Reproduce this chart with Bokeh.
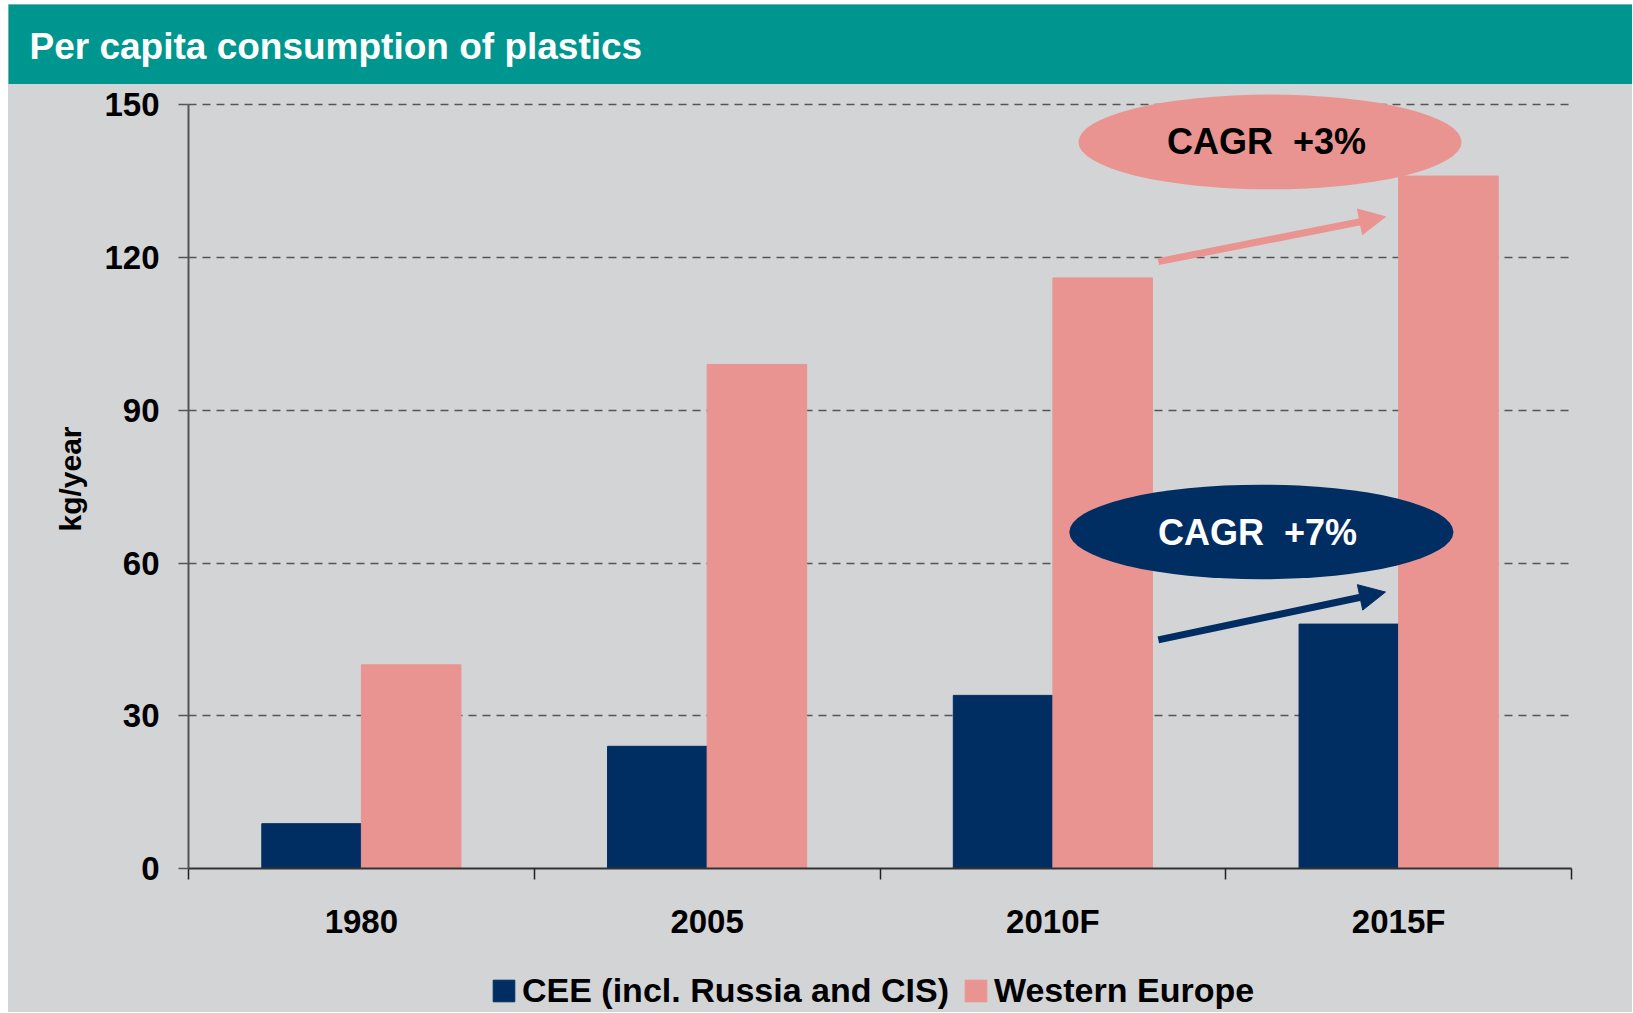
from bokeh.plotting import figure
from bokeh.models import Range1d, FixedTicker, Legend, LegendItem, Arrow, NormalHead
from bokeh.layouts import column
from bokeh.core.properties import value
from bokeh.embed import file_html
from bokeh.resources import INLINE

# ---- data ----
categories = ["1980", "2005", "2010F", "2015F"]
cee = [8.8, 24, 34, 48]
western_europe = [40, 99, 116, 136]
series_names = ["CEE (incl. Russia and CIS)", "Western Europe"]
y_ticks = [0, 30, 60, 90, 120, 150]
title_text = "Per capita consumption of plastics"
y_label = "kg/year"
cagr_labels = ["CAGR \u00a0+3%", "CAGR \u00a0+7%"]

TEAL = "#009690"
GREY = "#D3D4D6"
NAVY = "#002D62"
PINK = "#EA9491"
FONT = "Liberation Sans"

W = 1624


def bare(fig, fill):
    fig.background_fill_color = fill
    fig.border_fill_color = fill
    fig.outline_line_color = None
    fig.frame_align = False


# ---- header band ----
header = figure(width=W, height=80, x_range=Range1d(0, W), y_range=Range1d(0, 80),
                toolbar_location=None, output_backend="svg", min_border=0,
                x_axis_type=None, y_axis_type=None)
bare(header, TEAL)
header.text(x=[21], y=[38], text=[title_text], text_color="white",
            text_font=value(FONT), text_font_style="bold", text_font_size="37px",
            text_baseline="alphabetic", text_align="left")

# ---- main chart ----
p = figure(width=W, height=871, x_range=Range1d(0, 4), y_range=Range1d(0, 153),
           toolbar_location=None, output_backend="svg",
           min_border_left=180, min_border_right=61, min_border_top=5, min_border_bottom=87)
bare(p, GREY)

bw = 0.288
idx = list(range(len(categories)))
x_cee = [i + 0.5 - bw / 2 for i in idx]
x_we = [i + 0.5 + bw / 2 for i in idx]

p.vbar(x=x_cee, top=cee, width=bw, bottom=0, fill_color=NAVY, line_color=NAVY)
p.vbar(x=x_we, top=western_europe, width=bw, bottom=0, fill_color=PINK, line_color=PINK)

# axes
xa = p.xaxis[0]
xa.ticker = FixedTicker(ticks=[i + 0.5 for i in idx], minor_ticks=list(range(len(categories) + 1)))
xa.major_label_overrides = {i + 0.5: c for i, c in zip(idx, categories)}
xa.major_tick_line_color = None
xa.major_tick_out = 11
xa.major_tick_in = 0
xa.minor_tick_line_color = "#222222"
xa.minor_tick_line_width = 1.5
xa.minor_tick_out = 11
xa.minor_tick_in = 0
xa.axis_line_color = "#333333"
xa.axis_line_width = 2
xa.major_label_text_font = FONT
xa.major_label_text_font_style = "bold"
xa.major_label_text_font_size = "33px"
xa.major_label_text_color = "black"
xa.major_label_standoff = 23

ya = p.yaxis[0]
ya.ticker = FixedTicker(ticks=y_ticks)
ya.bounds = (0, 150)
ya.axis_line_color = "#555555"
ya.axis_line_width = 2
ya.major_tick_line_color = "#555555"
ya.major_tick_line_width = 1.5
ya.major_tick_out = 10
ya.major_tick_in = 0
ya.minor_tick_line_color = None
ya.major_label_text_font = FONT
ya.major_label_text_font_style = "bold"
ya.major_label_text_font_size = "33px"
ya.major_label_text_color = "black"
ya.major_label_standoff = 19
ya.axis_label = y_label
ya.axis_label_text_font = FONT
ya.axis_label_text_font_style = "bold"
ya.axis_label_text_font_size = "30px"
ya.axis_label_text_color = "black"
ya.axis_label_standoff = 14

p.xgrid.visible = False
p.ygrid.grid_line_color = "#555555"
p.ygrid.grid_line_dash = "8 6"
p.ygrid.grid_line_width = 1.5

# CAGR annotations
p.ellipse(x=[3.128, 3.103], y=[142.7, 66.1], width=[1.108, 1.111], height=[18.6, 18.6],
          fill_color=[PINK, NAVY], line_color=None)
p.text(x=[3.118, 3.092], y=[142.8, 66.0], text=cagr_labels, text_color=["black", "white"],
       text_font=value(FONT), text_font_style="bold", text_font_size="36px",
       text_align="center", text_baseline="middle")

p.add_layout(Arrow(end=NormalHead(size=26, fill_color=PINK, line_color=PINK),
                   x_start=2.805, y_start=119.2, x_end=3.462, y_end=128.0,
                   line_color=PINK, line_width=7))
p.add_layout(Arrow(end=NormalHead(size=26, fill_color=NAVY, line_color=NAVY),
                   x_start=2.805, y_start=44.9, x_end=3.462, y_end=54.3,
                   line_color=NAVY, line_width=7))

# ---- legend strip ----
lf = figure(width=W, height=57, x_range=Range1d(0, 1), y_range=Range1d(0, 1),
            toolbar_location=None, output_backend="svg", min_border=0,
            x_axis_type=None, y_axis_type=None)
bare(lf, GREY)
# legend swatches (kept outside the visible range of this strip)
lr_cee = lf.vbar(x=[5], top=[1], width=0.1, fill_color=NAVY, line_color=NAVY)
lr_we = lf.vbar(x=[5], top=[1], width=0.1, fill_color=PINK, line_color=PINK)
legend = Legend(items=[LegendItem(label=series_names[0], renderers=[lr_cee]),
                       LegendItem(label=series_names[1], renderers=[lr_we])],
                orientation="horizontal", location=(482, 2),
                glyph_width=27, glyph_height=27, label_standoff=5, spacing=13,
                padding=0, margin=0, label_height=27,
                label_text_font=FONT, label_text_font_style="bold",
                label_text_font_size="34px", label_text_color="black",
                background_fill_alpha=0, border_line_alpha=0)
lf.add_layout(legend)

layout = column(header, p, lf, spacing=0, margin=(4, 0, 0, 8),
                styles={"background-color": GREY})
open("out.html", "w").write(file_html(layout, INLINE))
